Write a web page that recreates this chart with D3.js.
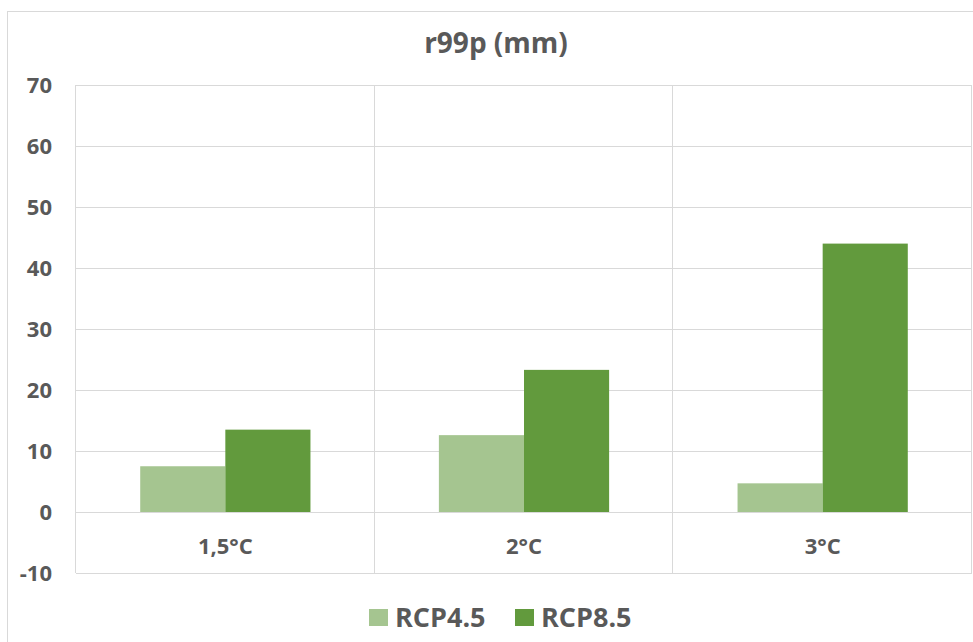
<!DOCTYPE html>
<html>
<head>
<meta charset="utf-8">
<script src="https://cdn.jsdelivr.net/npm/d3@7/dist/d3.min.js"></script>
<style>
  html, body { margin: 0; padding: 0; background: #fff; }
  svg { display: block; font-family: "Open Sans", Lato, sans-serif; }
</style>
</head>
<body>
<svg id="chart" width="973" height="642"></svg>
<script>
// Chart data
const categories = ["1,5°C", "2°C", "3°C"];
const seriesNames = ["RCP4.5", "RCP8.5"];
const rcp45 = [7.5, 12.6, 4.7];
const rcp85 = [13.5, 23.3, 44.0];
const yTicks = [-10, 0, 10, 20, 30, 40, 50, 60, 70];
const seriesColors = ["#a5c590", "#629a3d"];

const svg = d3.select("#chart");
const W = 973, H = 642;
const margin = { left: 76, right: 1, top: 85, bottom: 69 };
const textColor = "#595959";
const gridColor = "#d9d9d9";
const fontFamily = "'Open Sans', Lato, sans-serif";

// outer chart frame
svg.append("rect")
  .attr("x", 7.5).attr("y", 11.5)
  .attr("width", W + 10).attr("height", H + 10)
  .attr("fill", "#fff").attr("stroke", gridColor).attr("stroke-width", 1);

const x = d3.scaleBand()
  .domain(categories)
  .range([margin.left, W - margin.right])
  .paddingInner(0).paddingOuter(0);

const y = d3.scaleLinear()
  .domain([-10, 70])
  .range([H - margin.bottom, margin.top]);

// Title
svg.append("text")
  .attr("x", 496).attr("y", 53)
  .attr("text-anchor", "middle")
  .attr("fill", textColor)
  .attr("font-size", 28).attr("font-weight", 700)
  .text("r99p (mm)");

// Horizontal gridlines
const grid = svg.append("g");
grid.selectAll("line.h")
  .data(yTicks)
  .join("line")
  .attr("class", "h")
  .attr("x1", margin.left).attr("x2", W - margin.right)
  .attr("y1", d => Math.round(y(d)) + 0.5)
  .attr("y2", d => Math.round(y(d)) + 0.5)
  .attr("stroke", gridColor).attr("stroke-width", 1);

// Vertical category dividers (including plot edges)
const dividers = categories.map(c => x(c)).concat([x.range()[1]]);
grid.selectAll("line.v")
  .data(dividers)
  .join("line")
  .attr("class", "v")
  .attr("x1", d => Math.round(d) - 0.5).attr("x2", d => Math.round(d) - 0.5)
  .attr("y1", y(70)).attr("y2", y(-10))
  .attr("stroke", gridColor).attr("stroke-width", 1);

// Y axis labels (plain hyphen for negatives)
const yAxis = d3.axisLeft(y).tickValues(yTicks).tickSize(0).tickPadding(24)
  .tickFormat(d => String(d));
const yg = svg.append("g")
  .attr("transform", `translate(${margin.left},0)`)
  .call(yAxis);
yg.select(".domain").remove();
yg.selectAll("text")
  .attr("fill", textColor)
  .attr("font-size", 22).attr("font-weight", 700)
  .attr("font-family", fontFamily);

// Bars
const groupWidth = x.bandwidth() * 0.57;
const inner = d3.scaleBand()
  .domain(seriesNames)
  .range([0, groupWidth])
  .padding(0);

const rows = categories.map((c, i) => ({ cat: c, vals: [rcp45[i], rcp85[i]] }));
const groups = svg.append("g").selectAll("g")
  .data(rows)
  .join("g")
  .attr("transform", d => `translate(${x(d.cat) + (x.bandwidth() - groupWidth) / 2},0)`);

groups.selectAll("rect")
  .data(d => d.vals.map((v, j) => ({ v, s: seriesNames[j], j })))
  .join("rect")
  .attr("x", d => inner(d.s))
  .attr("width", inner.bandwidth())
  .attr("y", d => y(Math.max(0, d.v)))
  .attr("height", d => Math.abs(y(d.v) - y(0)))
  .attr("fill", d => seriesColors[d.j]);

// Category labels
svg.append("g").selectAll("text")
  .data(categories)
  .join("text")
  .attr("x", d => x(d) + x.bandwidth() / 2)
  .attr("y", y(0) + 42)
  .attr("text-anchor", "middle")
  .attr("fill", textColor)
  .attr("font-size", 22).attr("font-weight", 700)
  .text(d => d);

// Legend
const legendX = [369, 515];
const legend = svg.append("g").selectAll("g")
  .data(seriesNames)
  .join("g")
  .attr("transform", (d, i) => `translate(${legendX[i]},609)`);
legend.append("rect")
  .attr("width", 19).attr("height", 17)
  .attr("fill", (d, i) => seriesColors[i]);
legend.append("text")
  .attr("x", 26).attr("y", 18)
  .attr("fill", textColor)
  .attr("font-size", 27).attr("font-weight", 700)
  .text(d => d);
</script>
</body>
</html>
